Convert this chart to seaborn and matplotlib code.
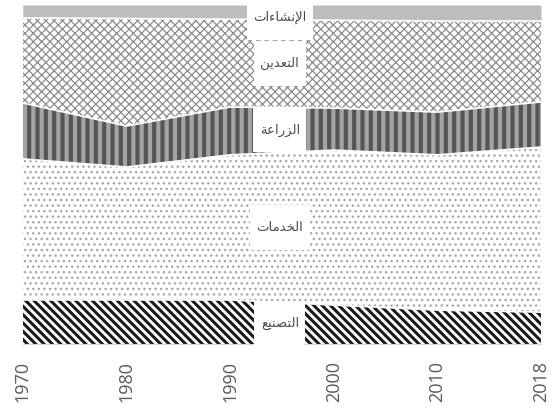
import numpy as np
import seaborn as sns
import matplotlib.pyplot as plt
from matplotlib.path import Path

# share of each sector (%), bottom to top of the stack
years = ["1970", "1980", "1990", "2000", "2010", "2018"]
sectors = ["التصنيع", "الخدمات", "الزراعة", "التعدين", "الإنشاءات"]
manufacturing = [13.0, 13.0, 13.0, 11.5, 10.0, 9.4]
services = [41.6, 39.2, 42.8, 45.7, 45.8, 48.7]
agriculture = [16.5, 12.1, 14.1, 12.4, 12.6, 13.3]
mining = [25.1, 31.7, 25.9, 25.9, 26.9, 23.9]
construction = [3.8, 4.0, 4.2, 4.5, 4.7, 4.7]

# (facecolor, hatch, hatch colour, hatch width)
styles = [
    ("white", "\\\\\\\\", "#1a1a1a", 2.2),
    ("white", "...", "#a8a8a8", 1.0),
    ("#a3a3a3", "||", "#555555", 3.0),
    ("white", "xxxx", "#8c8c8c", 0.9),
    ("#bdbdbd", None, "#bdbdbd", 1.0),
]

# matplotlib has no arabic shaping, so join the letters by hand
FORMS = {
    "ا": (0xFE8D, 0xFE8E, None, None),
    "إ": (0xFE87, 0xFE88, None, None),
    "ء": (0xFE80, None, None, None),
    "ة": (0xFE93, 0xFE94, None, None),
    "ت": (0xFE95, 0xFE96, 0xFE97, 0xFE98),
    "خ": (0xFEA5, 0xFEA6, 0xFEA7, 0xFEA8),
    "د": (0xFEA9, 0xFEAA, None, None),
    "ر": (0xFEAD, 0xFEAE, None, None),
    "ز": (0xFEAF, 0xFEB0, None, None),
    "ش": (0xFEB5, 0xFEB6, 0xFEB7, 0xFEB8),
    "ص": (0xFEB9, 0xFEBA, 0xFEBB, 0xFEBC),
    "ع": (0xFEC9, 0xFECA, 0xFECB, 0xFECC),
    "ل": (0xFEDD, 0xFEDE, 0xFEDF, 0xFEE0),
    "م": (0xFEE1, 0xFEE2, 0xFEE3, 0xFEE4),
    "ن": (0xFEE5, 0xFEE6, 0xFEE7, 0xFEE8),
    "ي": (0xFEF1, 0xFEF2, 0xFEF3, 0xFEF4),
}
LAM_ALEF = {"ا": (0xFEFB, 0xFEFC), "إ": (0xFEF9, 0xFEFA)}


def shape(word):
    toks = []
    i = 0
    while i < len(word):
        if word[i] == "ل" and i + 1 < len(word) and word[i + 1] in LAM_ALEF:
            toks.append(("LA", word[i + 1]))
            i += 2
        else:
            toks.append(("C", word[i]))
            i += 1

    def to_next(t):
        return t[0] == "C" and FORMS[t[1]][2] is not None

    def to_prev(t):
        return t[0] == "LA" or FORMS[t[1]][1] is not None

    out = []
    for k, t in enumerate(toks):
        p = k > 0 and to_next(toks[k - 1]) and to_prev(t)
        n = k + 1 < len(toks) and to_next(t) and to_prev(toks[k + 1])
        if t[0] == "LA":
            iso, fin = LAM_ALEF[t[1]]
            out.append(chr(fin if p else iso))
        else:
            iso, fin, ini, med = FORMS[t[1]]
            g = med if (p and n) else fin if p else ini if n else iso
            out.append(chr(g))
    return "".join(reversed(out))


def label_box(x0, y0, width, height, mutation_size):
    # wide, tall white box like the excel data labels
    px, py = 0.5 * mutation_size, 1.2 * mutation_size
    return Path([(x0 - px, y0 - py), (x0 + width + px, y0 - py),
                 (x0 + width + px, y0 + height + py), (x0 - px, y0 + height + py),
                 (x0 - px, y0 - py)], closed=True)


sns.set_style("white")
plt.rcParams["font.family"] = ["DejaVu Sans"]

fig = plt.figure(figsize=(5.56, 4.15), dpi=100)
ax = fig.add_axes([0.041, 0.171, 0.932, 0.817])

x = np.arange(len(years))
layers = np.array([manufacturing, services, agriculture, mining, construction])
tops = np.cumsum(layers, axis=0)
bottoms = tops - layers

for lo, hi, (fc, hatch, hc, hw) in zip(bottoms, tops, styles):
    plt.rcParams["hatch.linewidth"] = hw
    ax.fill_between(x, lo, hi, facecolor=fc, edgecolor=hc, hatch=hatch, linewidth=0)

for hi in tops[:-1]:
    ax.plot(x, hi, color="white", lw=1.2)

# labels sit in white boxes in the middle of each band
lx = 2.48
for name, lo, hi in zip(sectors, bottoms, tops):
    ly = (np.interp(lx, x, lo) + np.interp(lx, x, hi)) / 2
    ly = min(ly, 96.3)  # keep the top label inside the figure
    ax.text(lx, ly, shape(name), ha="center", va="center",
            fontsize=9.5, color="#4d4d4d",
            bbox=dict(boxstyle=label_box, facecolor="white", edgecolor="none"))

ax.set_xlim(0, len(years) - 1)
ax.set_ylim(0, 100)
ax.set_xticks(x)
ax.set_xticklabels(years, rotation=90, fontsize=13, color="#595959", family="Open Sans")
ax.set_yticks([])
ax.tick_params(axis="x", length=3, color="#d9d9d9", pad=9)
sns.despine(ax=ax, left=True, top=True, right=True)
ax.spines["bottom"].set_color("#d9d9d9")

fig.savefig("out.png", dpi=100)
